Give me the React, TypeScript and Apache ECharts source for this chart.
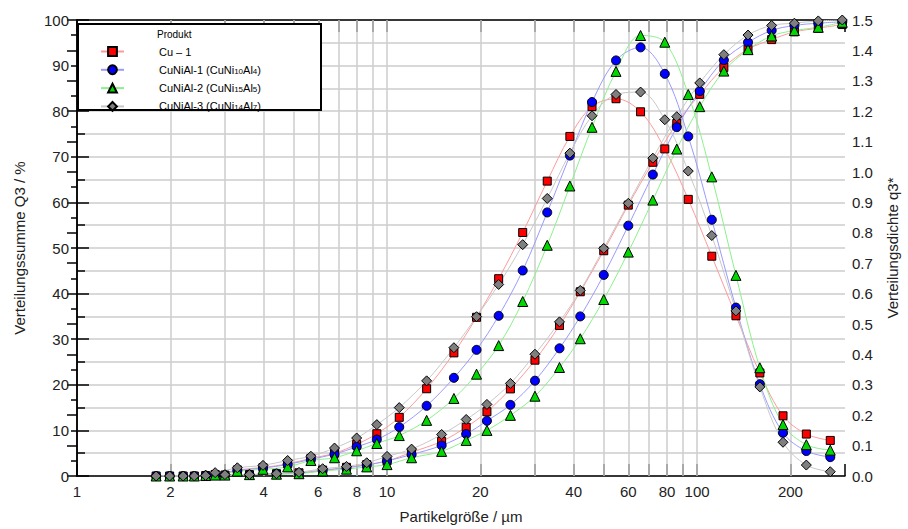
import React, { useEffect, useRef } from 'react';
import * as echarts from 'echarts';

// Class upper bounds (µm) for cumulative distribution Q3
const sizeQ3 = [1.8, 2.2, 2.6, 3.0, 3.6, 4.4, 5.2, 6.2, 7.4, 8.6, 10, 12, 15, 18, 21, 25, 30, 36, 42, 50, 60, 72, 86, 102, 122, 146, 174, 206, 246, 294];
// Class geometric means (µm) for density distribution q3*
const sizeQ3d = [1.99, 2.39, 2.79, 3.29, 3.98, 4.78, 5.68, 6.77, 7.98, 9.27, 10.95, 13.42, 16.43, 19.44, 22.91, 27.39, 32.86, 38.88, 45.83, 54.77, 65.73, 78.69, 93.66, 111.55, 133.46, 159.39, 189.33, 225.11, 268.93];

const productNames = ['Cu – 1', 'CuNiAl-1 (CuNi10Al4)', 'CuNiAl-2 (CuNi15Al5)', 'CuNiAl-3 (CuNi14Al7)'];

const Q3_Cu1 = [0, 0, 0.1, 0.2, 0.3, 0.5, 0.7, 1.3, 1.9, 2.5, 3.3, 5.2, 7.6, 10.7, 14.1, 19.1, 25.4, 33.0, 40.4, 49.4, 59.4, 68.8, 77.3, 83.7, 89.6, 93.6, 95.7, 97.4, 98.2, 99.0];
const Q3_CuNiAl1 = [0, 0, 0.1, 0.2, 0.3, 0.5, 0.6, 1.2, 1.8, 2.4, 3.3, 4.7, 6.7, 9.2, 12.1, 15.6, 20.9, 28.0, 35.0, 44.1, 54.9, 66.1, 76.5, 84.4, 91.2, 95.1, 97.7, 98.8, 99.3, 99.6];
const Q3_CuNiAl2 = [0, 0, 0.1, 0.2, 0.3, 0.4, 0.5, 1.1, 1.5, 2.0, 2.5, 4.0, 5.4, 7.8, 10.0, 13.3, 17.5, 23.8, 30.1, 38.7, 49.1, 60.5, 71.7, 81.0, 88.8, 93.5, 96.5, 97.7, 98.4, 99.5];
const Q3_CuNiAl3 = [0, 0, 0.1, 0.3, 0.3, 0.5, 0.8, 1.6, 2.1, 2.9, 4.3, 5.9, 9.1, 12.4, 15.7, 20.3, 26.7, 33.8, 40.7, 49.9, 59.8, 69.7, 78.8, 86.2, 92.4, 96.7, 98.8, 99.3, 99.8, 100];

const q3_Cu1 = [0, 0, 0.005, 0.02, 0.028, 0.04, 0.058, 0.075, 0.104, 0.139, 0.193, 0.287, 0.405, 0.522, 0.649, 0.801, 0.970, 1.117, 1.215, 1.241, 1.198, 1.076, 0.910, 0.723, 0.527, 0.339, 0.198, 0.138, 0.117];
const q3_CuNiAl1 = [0, 0, 0.004, 0.018, 0.026, 0.038, 0.055, 0.072, 0.096, 0.120, 0.161, 0.231, 0.323, 0.415, 0.527, 0.676, 0.867, 1.054, 1.230, 1.367, 1.410, 1.323, 1.117, 0.843, 0.554, 0.302, 0.142, 0.082, 0.062];
const q3_CuNiAl2 = [0, 0, 0.003, 0.016, 0.022, 0.030, 0.051, 0.060, 0.083, 0.107, 0.133, 0.183, 0.255, 0.335, 0.429, 0.574, 0.759, 0.954, 1.147, 1.331, 1.449, 1.427, 1.255, 0.984, 0.660, 0.356, 0.169, 0.103, 0.085];
const q3_CuNiAl3 = [0, 0, 0.011, 0.027, 0.035, 0.051, 0.065, 0.092, 0.125, 0.169, 0.225, 0.313, 0.422, 0.524, 0.630, 0.761, 0.913, 1.062, 1.185, 1.255, 1.263, 1.172, 1.003, 0.791, 0.543, 0.293, 0.111, 0.036, 0.014];

const xTickValues = [1, 2, 3, 4, 5, 6, 7, 8, 9, 10, 20, 30, 40, 50, 60, 70, 80, 90, 100, 200, 300];
const xLabelValues = [1, 2, 4, 6, 8, 10, 20, 40, 60, 80, 100, 200];
const xGridValues = [2, 3, 4, 5, 6, 7, 8, 9, 10, 20, 30, 40, 50, 60, 70, 80, 90, 100, 200];

const cumulativeSets = [Q3_Cu1, Q3_CuNiAl1, Q3_CuNiAl2, Q3_CuNiAl3];
const densitySets = [q3_Cu1, q3_CuNiAl1, q3_CuNiAl2, q3_CuNiAl3];
const markerColors = ['#ff0000', '#0000ff', '#00d800', '#7f7f7f'];
const lineColors = ['#ff9a9a', '#9a9aff', '#8cf08c', '#c8c8c8'];
const symbols = ['rect', 'circle', 'triangle', 'diamond'];
const symbolSizes = [8, 9, 10, 10];

const FONT = 'Liberation Sans, Arial, sans-serif';
const GRID_COLOR = '#cccccc';
const X_MIN = 1;
const X_MAX = 300;

export default function App() {
  const ref = useRef<HTMLDivElement>(null);

  useEffect(() => {
    if (!ref.current) return;
    const chart = echarts.init(ref.current, undefined, { renderer: 'svg' });
    const lx = (v: number) => Math.log10(v);
    const lmax = Math.log10(X_MAX);

    const series: any[] = [];
    cumulativeSets.forEach((vals, i) => {
      const s: any = {
        type: 'line',
        name: productNames[i],
        xAxisIndex: 0,
        yAxisIndex: 0,
        data: sizeQ3.map((x, j) => [x, vals[j]]),
        symbol: symbols[i],
        symbolSize: symbolSizes[i],
        smooth: 0.35,
        itemStyle: { color: markerColors[i], borderColor: '#000', borderWidth: 1 },
        lineStyle: { color: lineColors[i], width: 1 },
        emphasis: { disabled: true },
        z: 2,
      };
      if (i === 0) {
        s.markLine = {
          silent: true,
          z: 1,
          symbol: ['none', 'none'],
          label: { show: false },
          lineStyle: { color: GRID_COLOR, width: 1.5, type: 'solid' },
          emphasis: { disabled: true },
          data: xGridValues.map((v) => ({ xAxis: v })),
        };
      }
      series.push(s);
    });
    densitySets.forEach((vals, i) => {
      series.push({
        type: 'line',
        name: productNames[i],
        xAxisIndex: 0,
        yAxisIndex: 1,
        data: sizeQ3d.map((x, j) => [x, vals[j]]),
        symbol: symbols[i],
        symbolSize: symbolSizes[i],
        smooth: 0.35,
        itemStyle: { color: markerColors[i], borderColor: '#000', borderWidth: 1 },
        lineStyle: { color: lineColors[i], width: 1 },
        emphasis: { disabled: true },
        z: 2,
      });
    });

    const tickAxisCommon = {
      type: 'value',
      min: 0,
      max: lmax,
      splitLine: { show: false },
      axisLine: { show: true, onZero: false, lineStyle: { color: '#000', width: 1.5 } },
      axisTick: {
        show: true,
        inside: true,
        length: 12,
        customValues: xTickValues.map(lx),
        lineStyle: { color: '#000', width: 1.5 },
      },
    };

    chart.setOption({
      animation: false,
      textStyle: { fontFamily: FONT },
      grid: { left: 77, right: 60, top: 20, bottom: 49, containLabel: false },
      legend: {
        data: productNames,
        orient: 'vertical',
        left: 100,
        top: 46,
        padding: 0,
        itemGap: 7.3,
        itemWidth: 23,
        itemHeight: 11,
        selectedMode: false,
        textStyle: {
          fontFamily: FONT,
          fontSize: 11,
          color: '#000',
          lineHeight: 11,
          padding: [0, 0, 0, 30],
          rich: {
            s: { fontFamily: FONT, fontSize: 8, lineHeight: 6, verticalAlign: 'bottom', color: '#000' },
          },
        },
        formatter: (name: string) => name.replace(/(Ni|Al)(\d+)/g, '$1{s|$2}'),
        z: 5,
      },
      graphic: [
        { type: 'rect', z: 3, shape: { x: 78, y: 24, width: 243, height: 86 }, style: { fill: '#fff', stroke: 'none' }, silent: true },
        { type: 'rect', z: 20, shape: { x: 78, y: 24, width: 243, height: 86 }, style: { fill: 'none', stroke: '#000', lineWidth: 2 }, silent: true },
        { type: 'text', z: 20, x: 157, y: 34, style: { text: 'Produkt', fontSize: 10, fontFamily: FONT, fill: '#000', verticalAlign: 'middle' }, silent: true },
      ],
      xAxis: [
        {
          type: 'log',
          logBase: 10,
          min: X_MIN,
          max: X_MAX,
          show: true,
          axisLine: { show: false },
          axisTick: { show: false },
          axisLabel: { show: false },
          splitLine: { show: false },
          minorSplitLine: { show: false },
        },
        {
          ...tickAxisCommon,
          position: 'bottom',
          axisLabel: {
            show: true,
            customValues: xLabelValues.map(lx),
            formatter: (v: number) => String(Math.round(Math.pow(10, v))),
            fontSize: 15,
            color: '#222',
            margin: 8,
            fontFamily: FONT,
          },
          name: 'Partikelgröße / µm',
          nameLocation: 'middle',
          nameGap: 33,
          nameTextStyle: { fontSize: 15, color: '#222', fontFamily: FONT },
        },
        {
          ...tickAxisCommon,
          position: 'top',
          axisLabel: { show: false },
        },
      ],
      yAxis: [
        {
          type: 'value',
          position: 'left',
          min: 0,
          max: 100,
          interval: 10,
          axisLine: { show: true, lineStyle: { color: '#000', width: 1.5 } },
          axisTick: { show: true, inside: true, length: 12, lineStyle: { color: '#000', width: 1.5 } },
          minorTick: { show: true, splitNumber: 2, length: 8, lineStyle: { color: '#000', width: 1.5 } },
          splitLine: { show: true, lineStyle: { color: GRID_COLOR, width: 1.5 } },
          minorSplitLine: { show: true, lineStyle: { color: GRID_COLOR, width: 1.5 } },
          axisLabel: { fontSize: 15, color: '#222', margin: 8, fontFamily: FONT },
          name: 'Verteilungssumme Q3 / %',
          nameLocation: 'middle',
          nameGap: 50,
          nameTextStyle: { fontSize: 15, color: '#222', fontFamily: FONT },
        },
        {
          type: 'value',
          position: 'right',
          min: 0,
          max: 1.5,
          interval: 0.1,
          axisLine: { show: true, lineStyle: { color: '#000', width: 1.5 } },
          axisTick: { show: true, inside: true, length: 10, lineStyle: { color: '#000', width: 1.5 } },
          minorTick: { show: true, splitNumber: 2, length: 6, lineStyle: { color: '#000', width: 1.5 } },
          splitLine: { show: false },
          axisLabel: { fontSize: 15, color: '#222', margin: 7, fontFamily: FONT, formatter: (v: number) => v.toFixed(1) },
          name: 'Verteilungsdichte q3*',
          nameLocation: 'middle',
          nameGap: 40,
          nameTextStyle: { fontSize: 15, color: '#222', fontFamily: FONT },
        },
      ],
      series,
    });

    return () => chart.dispose();
  }, []);

  return <div ref={ref} style={{ position: 'fixed', left: 0, top: 0, width: 908, height: 529, background: '#fff' }} />;
}
